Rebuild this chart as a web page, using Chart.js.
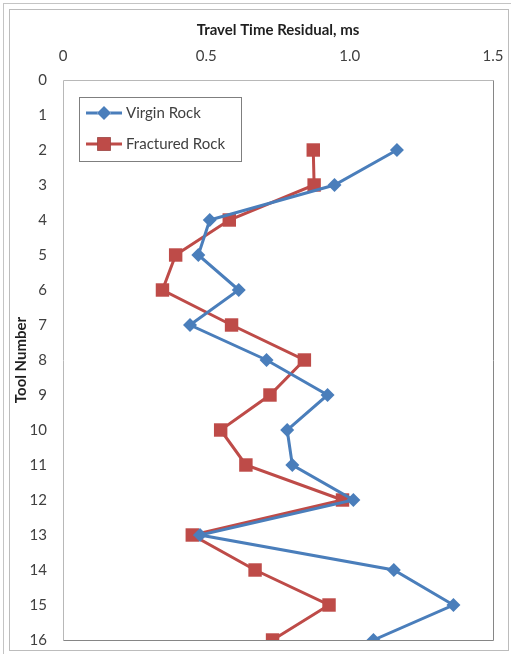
<!DOCTYPE html>
<html>
<head>
<meta charset="utf-8">
<script src="https://cdn.jsdelivr.net/npm/chart.js@4/dist/chart.umd.min.js"></script>
<style>
    html, body { margin: 0; padding: 0; background: #fff; }
    body { width: 511px; height: 654px; position: relative; overflow: hidden; }
    .frame-outer { position: absolute; left: 3px; top: 3px; width: 600px; height: 700px; border: 1px solid #c4c4c4; }
    .frame-inner { position: absolute; left: 9px; top: 9px; width: 498px; height: 640px; border: 1px solid #bcbcbc; }
    #chart { position: absolute; left: 0; top: 0; }
</style>
</head>
<body>
<div class="frame-outer"></div>
<div class="frame-inner"></div>
<canvas id="chart" width="511" height="654"></canvas>
<script>
const toolNumbers = [2, 3, 4, 5, 6, 7, 8, 9, 10, 11, 12, 13, 14, 15, 16];
const virginRock = [1.165, 0.947, 0.512, 0.472, 0.613, 0.443, 0.710, 0.923, 0.782, 0.800, 1.013, 0.478, 1.154, 1.362, 1.083];
const fracturedRock = [0.873, 0.876, 0.580, 0.393, 0.347, 0.588, 0.842, 0.722, 0.550, 0.638, 0.975, 0.451, 0.670, 0.928, 0.731];
const seriesNames = ['Virgin Rock', 'Fractured Rock'];
const xTitle = 'Travel Time Residual, ms';
const yTitle = 'Tool Number';

const BLUE = '#4a7ebb';
const RED = '#be4b48';
const TEXT = '#404040';

const toPoints = (vals) => vals.map((v, i) => ({ x: v, y: toolNumbers[i] }));

// plot area box, drawn under the lines
const plotBorder = {
    id: 'plotBorder',
    beforeDatasetsDraw(chart) {
        const { ctx, chartArea: a } = chart;
        ctx.save();
        ctx.lineWidth = 1;
        ctx.strokeStyle = '#b8b8b8';
        ctx.beginPath();
        ctx.moveTo(a.left + 0.5, a.bottom + 0.5);
        ctx.lineTo(a.left + 0.5, a.top + 0.5);
        ctx.lineTo(a.right + 0.5, a.top + 0.5);
        ctx.stroke();
        ctx.strokeStyle = '#868686';
        ctx.beginPath();
        ctx.moveTo(a.right + 0.5, a.top + 0.5);
        ctx.lineTo(a.right + 0.5, a.bottom + 0.5);
        ctx.lineTo(a.left + 0.5, a.bottom + 0.5);
        ctx.stroke();
        ctx.restore();
    }
};

// legend box sitting inside the plot area
const insideLegend = {
    id: 'insideLegend',
    afterDraw(chart) {
        const { ctx, chartArea: a } = chart;
        const x0 = a.left + 16, y0 = a.top + 17, w = 162, h = 64;
        ctx.save();
        ctx.fillStyle = '#fff';
        ctx.fillRect(x0, y0, w, h);
        ctx.strokeStyle = '#7f7f7f';
        ctx.lineWidth = 1;
        ctx.strokeRect(x0 + 0.5, y0 + 0.5, w, h);
        chart.data.datasets.forEach((ds, i) => {
            const cy = y0 + 16 + i * 31;
            ctx.strokeStyle = ds.borderColor;
            ctx.lineWidth = ds.borderWidth;
            ctx.beginPath();
            ctx.moveTo(x0 + 7, cy);
            ctx.lineTo(x0 + 43, cy);
            ctx.stroke();
            Chart.helpers.drawPoint(ctx, {
                pointStyle: ds.pointStyle,
                radius: ds.pointRadius,
                rotation: 0,
                borderWidth: 0
            }, x0 + 25, cy);
            ctx.fillStyle = ds.pointBackgroundColor;
            ctx.fill();
            ctx.fillStyle = TEXT;
            ctx.font = '15px Lato';
            ctx.textBaseline = 'middle';
            ctx.textAlign = 'left';
            ctx.fillText(ds.label, x0 + 47, cy);
        });
        ctx.restore();
    }
};

new Chart(document.getElementById('chart').getContext('2d'), {
    type: 'line',
    data: {
        datasets: [{
            label: seriesNames[0],
            data: toPoints(virginRock),
            borderColor: BLUE,
            backgroundColor: BLUE,
            pointBackgroundColor: BLUE,
            pointBorderColor: BLUE,
            borderWidth: 3,
            pointStyle: 'rectRot',
            pointRadius: 7,
            pointBorderWidth: 0,
            tension: 0
        }, {
            label: seriesNames[1],
            data: toPoints(fracturedRock),
            borderColor: RED,
            backgroundColor: RED,
            pointBackgroundColor: RED,
            pointBorderColor: RED,
            borderWidth: 3,
            pointStyle: 'rect',
            pointRadius: 9.5,
            pointBorderWidth: 0,
            tension: 0
        }]
    },
    options: {
        responsive: false,
        animation: false,
        layout: { padding: { left: 12, top: 12, right: 18, bottom: 14 } },
        plugins: {
            legend: { display: false },
            tooltip: { enabled: false }
        },
        scales: {
            x: {
                type: 'linear',
                position: 'top',
                min: 0,
                max: 1.5,
                grid: { display: false, drawTicks: false },
                border: { display: false },
                ticks: {
                    stepSize: 0.5,
                    autoSkip: false,
                    maxRotation: 0,
                    padding: 15,
                    color: TEXT,
                    font: { family: 'Lato', size: 15 }
                },
                title: {
                    display: true,
                    text: xTitle,
                    color: '#1f1f1f',
                    padding: { top: 9, bottom: 0 },
                    font: { family: 'Lato', size: 15, weight: 'bold' }
                },
                afterFit(scale) {
                    scale.height = 68;
                    scale.paddingLeft = 0;
                    scale.paddingRight = 0;
                }
            },
            y: {
                type: 'linear',
                reverse: true,
                min: 0,
                max: 16,
                grid: { display: false, drawTicks: false },
                border: { display: false },
                ticks: {
                    stepSize: 1,
                    autoSkip: false,
                    padding: 16,
                    color: TEXT,
                    font: { family: 'Lato', size: 15 }
                },
                title: {
                    display: true,
                    text: yTitle,
                    color: '#1f1f1f',
                    padding: { top: 0, bottom: 0 },
                    font: { family: 'Lato', size: 15, weight: 'bold' }
                },
                afterFit(scale) {
                    scale.width = 51;
                    scale.paddingTop = 0;
                    scale.paddingBottom = 0;
                }
            }
        }
    },
    plugins: [plotBorder, insideLegend]
});
</script>
</body>
</html>
